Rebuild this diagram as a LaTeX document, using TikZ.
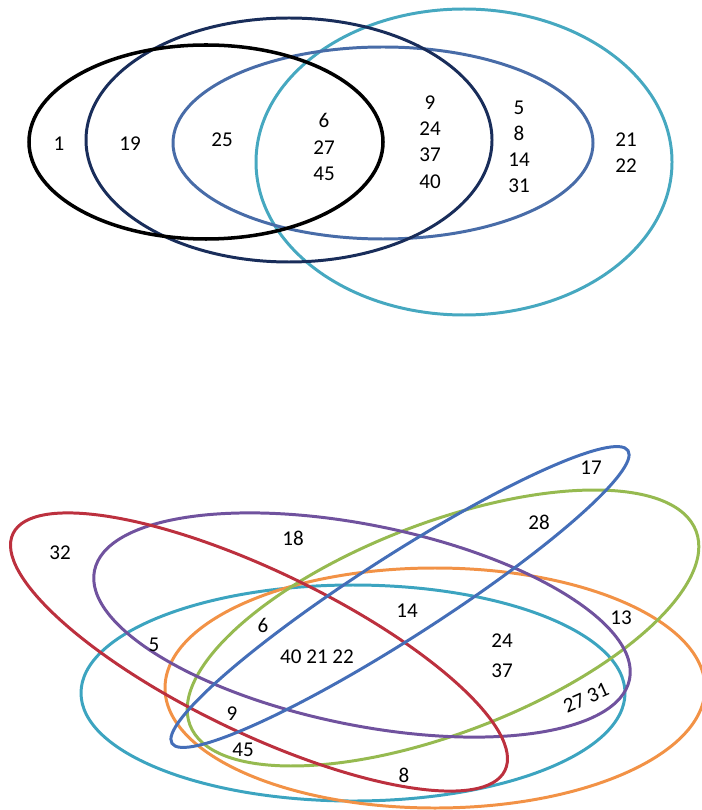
\documentclass[tikz,border=0pt]{standalone}
\usepackage{fontspec}
\setmainfont{Carlito}
\definecolor{setnavy}{RGB}{25,45,90}
\definecolor{setsteel}{RGB}{72,108,168}
\definecolor{setaqua}{RGB}{70,168,192}
\definecolor{setred}{RGB}{188,48,62}
\definecolor{setpurple}{RGB}{112,82,158}
\definecolor{setgreen}{RGB}{150,186,80}
\definecolor{setorange}{RGB}{242,146,70}
\definecolor{setteal}{RGB}{60,164,192}
\definecolor{setblue}{RGB}{68,110,184}

\begin{document}
\begin{tikzpicture}[x=0.02cm, y=-0.02cm,
  ring/.style={line width=1.7pt},
  num/.style={font=\fontsize{12}{14.9}\selectfont, align=center, inner sep=0pt}
]
\useasboundingbox (0,0) rectangle (701,810);
% --- upper diagram: nested sets ---
\draw[ring, setaqua]  (464,162) ellipse [x radius=208, y radius=153];
\draw[ring, setsteel] (383,143) ellipse [x radius=210, y radius=96];
\draw[ring, setnavy]  (289,140) ellipse [x radius=203, y radius=122];
\draw[ring, line width=2pt, black] (206,142) ellipse [x radius=177, y radius=97];
\node[num] (u1)  at (59,144)  {1};
\node[num] (u19) at (130,144) {19};
\node[num] (u25) at (222,140) {25};
\node[num] (u6)  at (324,147) {6\\27\\45};
\node[num] (u9)  at (430,142) {9\\24\\37\\40};
\node[num] (u5)  at (519,147) {5\\8\\14\\31};
\node[num] (u21) at (626,153) {21\\22};
% --- lower diagram: six overlapping sets ---
\draw[ring, setteal]   (353,693) ellipse [x radius=272, y radius=108];
\draw[ring, setorange] (435,688) ellipse [x radius=270, y radius=120];
\draw[ring, setgreen, rotate around={21:(443,628)}]    (443,628) ellipse [x radius=271, y radius=105];
\draw[ring, setpurple, rotate around={-11.5:(362,625)}] (362,625) ellipse [x radius=273, y radius=100];
\draw[ring, setred, rotate around={-25.7:(259,652)}]   (259,652) ellipse [x radius=273, y radius=81];
\draw[ring, setblue, rotate around={32.7:(400,597)}]   (400,597) ellipse [x radius=271, y radius=41];
\node[num] (l17) at (591,468) {17};
\node[num] (l28) at (539,522) {28};
\node[num] (l32) at (60,553)  {32};
\node[num] (l18) at (293,538) {18};
\node[num] (l14) at (407,611) {14};
\node[num] (l13) at (621,618) {13};
\node[num] (l6)  at (263,625) {6};
\node[num] (l5)  at (154,645) {5};
\node[num] (l24) at (502,641) {24};
\node[num] (l37) at (502,671) {37};
\node[num] (l40) at (317,657) {40 21 22};
\node[num, rotate=24] (l27) at (586,698) {27 31};
\node[num] (l9)  at (232,714) {9};
\node[num] (l45) at (243,750) {45};
\node[num] (l8)  at (404,775) {8};
\end{tikzpicture}
\end{document}
